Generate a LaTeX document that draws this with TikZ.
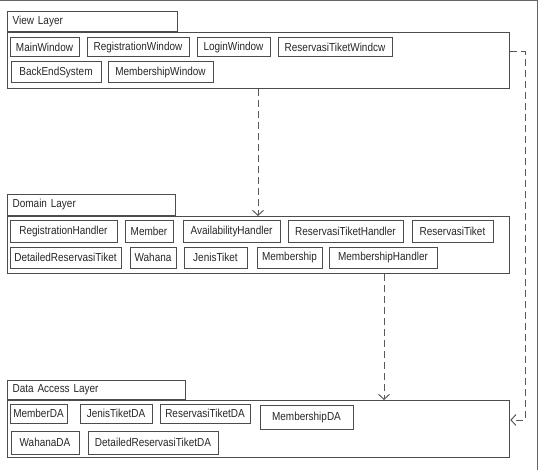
\documentclass[tikz,border=0pt]{standalone}
\usepackage{fontspec}
\setmainfont{Liberation Sans}[FakeStretch=0.86]
\usepackage{xcolor}
\usetikzlibrary{arrows.meta}

\tikzset{
  layerbox/.style={draw=black!70, line width=1.3pt, anchor=north west, minimum width=502pt, inner sep=0pt},
  layertab/.style={draw=black!70, line width=1.3pt, anchor=south west, text width=160pt, inner xsep=5pt, inner ysep=0pt, align=left, text=black!85},
  cls/.style={draw=black!70, line width=1pt, inner sep=0pt, text=black!85},
  dep/.style={draw=black!65, line width=1pt, dash pattern=on 7pt off 4pt, -{Straight Barb[length=5pt,width=11pt]}}
}

\begin{document}
\begin{tikzpicture}[x=1pt, y=-1pt, font=\fontsize{11.6}{13}\selectfont]
	\useasboundingbox (0,0) rectangle (540,470);
		\draw[black!60, line width=1pt] (0,0.5) -- (537,0.5) -- (537,470);

		% view layer
		\node[layerbox, minimum height=56pt] (viewBox) at (7,32) {};
		\node[layertab, minimum height=20pt] (viewTab) at (viewBox.north west) {View Layer};
		\node[cls, minimum width=69pt, minimum height=19pt] (mainWin) at (44.5,47.5) {MainWindow};
		\node[cls, minimum width=102pt, minimum height=19pt] (regWin) at (138,47.5) {RegistrationWindow};
		\node[cls, minimum width=73pt, minimum height=19pt] (loginWin) at (233.5,47.5) {LoginWindow};
		\node[cls, minimum width=114pt, minimum height=19pt] (resWin) at (335,47.5) {ReservasiTiketWindcw};
		\node[cls, minimum width=90pt, minimum height=21pt] (backEnd) at (56,72.5) {BackEndSystem};
		\node[cls, minimum width=105pt, minimum height=21pt] (memberWin) at (160.5,72.5) {MembershipWindow};

		% domain layer
		\node[layerbox, minimum height=57pt] (domainBox) at (7,216) {};
		\node[layertab, minimum height=21pt, text width=158pt] (domainTab) at (domainBox.north west) {Domain Layer};
		\node[cls, minimum width=107pt, minimum height=21pt] (regHandler) at (63.5,231.5) {RegistrationHandler};
		\node[cls, minimum width=48pt, minimum height=21pt] (member) at (149,231.5) {Member};
		\node[cls, minimum width=97pt, minimum height=21pt] (availHandler) at (231.5,231.5) {AvailabilityHandler};
		\node[cls, minimum width=115pt, minimum height=21pt] (resHandler) at (345.5,231.5) {ReservasiTiketHandler};
		\node[cls, minimum width=81pt, minimum height=21pt] (resTiket) at (452.5,231.5) {ReservasiTiket};
		\node[cls, minimum width=111pt, minimum height=21pt] (detailed) at (65.5,257.5) {DetailedReservasiTiket};
		\node[cls, minimum width=46pt, minimum height=21pt] (wahana) at (153,257.5) {Wahana};
		\node[cls, minimum width=63pt, minimum height=21pt] (jenis) at (215.5,257.5) {JenisTiket};
		\node[cls, minimum width=65pt, minimum height=21pt] (membership) at (289.5,257.5) {Membership};
		\node[cls, minimum width=108pt, minimum height=21pt] (memberHandler) at (383,257.5) {MembershipHandler};

		% data access layer
		\node[layerbox, minimum height=57pt] (daBox) at (7,400) {};
		\node[layertab, minimum height=19pt, text width=168pt] (daTab) at (daBox.north west) {Data Access Layer};
		\node[cls, minimum width=57pt, minimum height=19pt] (memberDA) at (38.5,413.5) {MemberDA};
		\node[cls, minimum width=72pt, minimum height=19pt] (jenisDA) at (116,413.5) {JenisTiketDA};
		\node[cls, minimum width=90pt, minimum height=19pt] (resDA) at (205,413.5) {ReservasiTiketDA};
		\node[cls, minimum width=93pt, minimum height=24pt] (membershipDA) at (306.5,417) {MembershipDA};
		\node[cls, minimum width=68pt, minimum height=23pt] (wahanaDA) at (45,442.5) {WahanaDA};
		\node[cls, minimum width=130pt, minimum height=23pt] (detailedDA) at (153,442.5) {DetailedReservasiTiketDA};

		% dependencies
		\coordinate (vd) at (258,0);
		\coordinate (dd) at (384,0);
		\coordinate (rt) at (525,52);
		\coordinate (rb) at (525,420);
		\draw[dep] (viewBox.south -| vd) -- (domainBox.north -| vd);
		\draw[dep] (domainBox.south -| dd) -- (daBox.north -| dd);
		\draw[dep] (viewBox.east |- rt) -- (rt) -- (rb) -- (daBox.east |- rb);
	\end{tikzpicture}
\end{document}
